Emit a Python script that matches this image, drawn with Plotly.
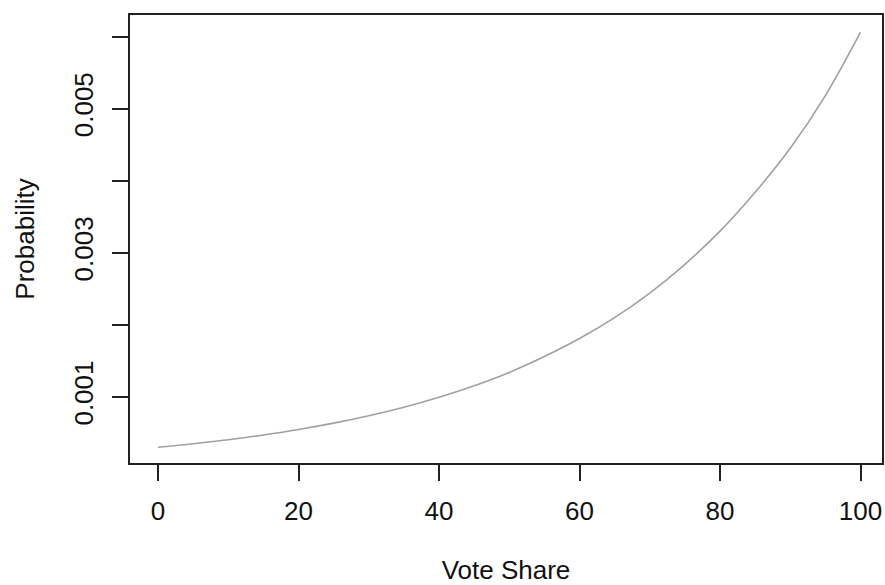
import plotly.graph_objects as go

# Values
vote_share = [0, 5, 10, 15, 20, 25, 30, 35, 40, 45, 50,
              55, 60, 65, 70, 75, 80, 85, 90, 95, 100]
probability = [0.000302, 0.000350, 0.000405, 0.000472, 0.000548, 0.000636,
               0.000738, 0.000857, 0.000995, 0.001155, 0.00134,
               0.00156, 0.00181, 0.00210, 0.00244, 0.00284, 0.00330,
               0.00384, 0.00445, 0.00518, 0.00606]

x_tickvals = [0, 20, 40, 60, 80, 100]
x_ticktext = ["0", "20", "40", "60", "80", "100"]
y_tickvals = [0.001, 0.002, 0.003, 0.004, 0.005, 0.006]
y_ticktext = ["0.001", "", "0.003", "", "0.005", ""]

FONT = "Liberation Sans, Arial, sans-serif"
FS = 26

fig = go.Figure()
fig.add_trace(go.Scatter(
    x=vote_share, y=probability, mode="lines",
    line=dict(color="#a0a0a0", width=1.6, shape="spline", smoothing=1.0),
    showlegend=False, hoverinfo="skip",
))

axis_common = dict(
    showgrid=False, zeroline=False, showline=True, mirror=True,
    linecolor="#222222", linewidth=1.5,
    ticks="outside", ticklen=16, tickwidth=1.5, tickcolor="#222222",
    tickfont=dict(family=FONT, size=FS, color="#111111"),
    automargin=False,
)

fig.update_layout(
    width=885, height=585,
    margin=dict(l=130, r=3, t=15, b=122),
    paper_bgcolor="white", plot_bgcolor="white",
    font=dict(family=FONT, size=FS, color="#111111"),
    xaxis=dict(
        range=[-3.99, 103.06],
        tickmode="array", tickvals=x_tickvals, ticktext=x_ticktext,
        title=dict(text="Vote Share", font=dict(family=FONT, size=FS, color="#111111"),
                   standoff=36),
        ticklabelstandoff=8,
        **axis_common,
    ),
    yaxis=dict(
        range=[0.0000833, 0.0062986],
        tickmode="array", tickvals=y_tickvals, ticktext=y_ticktext,
        tickangle=-90,
        title=dict(text="Probability", font=dict(family=FONT, size=FS, color="#111111"),
                   standoff=27),
        ticklabelstandoff=9,
        **axis_common,
    ),
)

fig.write_html("out.html")
